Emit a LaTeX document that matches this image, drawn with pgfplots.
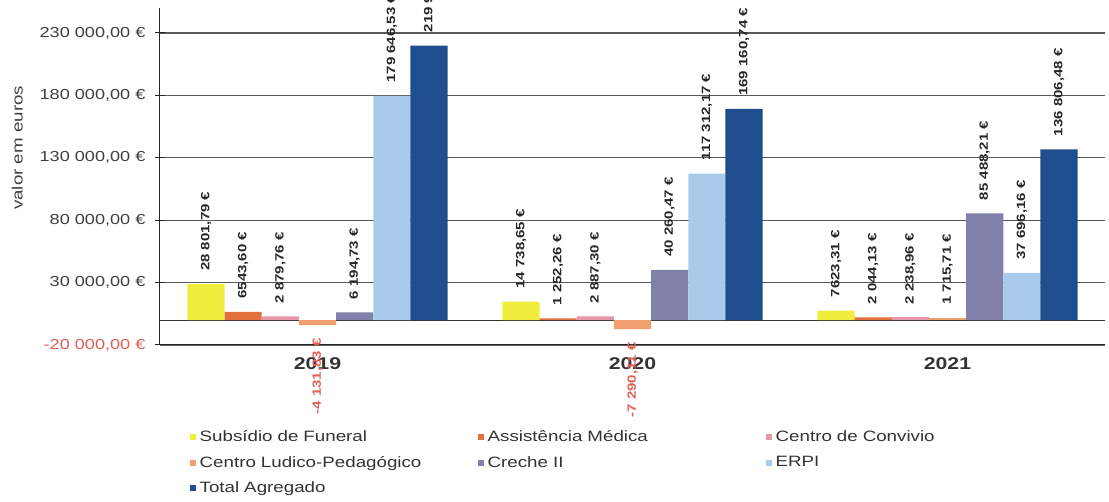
\documentclass[border=0pt]{standalone}
\usepackage{fontspec}
\setmainfont{Liberation Sans}[FakeStretch=1.25]
\usepackage{pgfplots}
\pgfplotsset{compat=1.18}
\definecolor{cSub}{RGB}{240,238,60}
\definecolor{cAss}{RGB}{224,112,60}
\definecolor{cConv}{RGB}{232,150,170}
\definecolor{cLud}{RGB}{240,160,110}
\definecolor{cCre}{RGB}{128,128,170}
\definecolor{cErpi}{RGB}{168,202,235}
\definecolor{cTot}{RGB}{30,78,142}
\definecolor{negred}{RGB}{225,95,85}
\definecolor{gridc}{RGB}{90,90,90}
\begin{document}
\begin{tikzpicture}
\useasboundingbox (0,0) rectangle (1109pt,-502pt);
\begin{axis}[
  at={(160pt,-345pt)}, anchor=south west,
  scale only axis, width=945pt, height=337pt,
  xmin=-0.5, xmax=2.5, ymin=-20000, ymax=250000,
  axis lines*=left,
  axis line style={black!85, line width=1pt},
  xtick={0,1,2}, xticklabels={2019,2020,2021},
  xticklabel style={font=\fontsize{17}{18}\selectfont\bfseries, text=black!80, yshift=1pt},
  major x tick style={draw=none},
  ytick={-20000,30000,80000,130000,180000,230000},
  yticklabels={{\textcolor{negred}{-20 000,00 €}},{30 000,00 €},{80 000,00 €},{130 000,00 €},{180 000,00 €},{230 000,00 €}},
  yticklabel style={font=\fontsize{14.5}{16}\selectfont, text=black!75, xshift=-6pt},
  tick align=center, major tick length=10pt,
  major y tick style={black!85, line width=1pt},
  ymajorgrids, grid style={gridc, line width=1.2pt},
  extra y ticks={0}, extra y tick labels={},
  extra y tick style={grid style={black!80, line width=1pt}, major tick length=0pt},
  ylabel={valor em euros},
  ylabel style={at={(axis description cs:-0.151,0.585)}, anchor=center, font=\fontsize{15}{16}\selectfont, text=black!75},
  ybar=0pt, bar width=0.118,
  point meta=explicit symbolic,
  nodes near coords={\pgfplotspointmeta},
  nodes near coords style={rotate=90, anchor=west, font=\fontsize{12}{13}\selectfont\bfseries, text=black!85, inner xsep=13pt, inner ysep=1pt},
  every axis plot post/.append style={legend image code/.code={\fill[##1] (0pt,-3pt) rectangle (6pt,3pt);}},
  legend columns=3,
  legend style={at={(0.028,-0.245)}, anchor=north west, draw=none, fill=none,
    font=\fontsize{15}{16}\selectfont, text=black!80, row sep=11pt,
    nodes={text width=274pt, anchor=west, inner ysep=1pt, inner xsep=4pt}},
]
\addplot[fill=cSub, draw=none, bar shift=-0.354] coordinates {(0,28801.79) [28 801,79 €] (1,14738.65) [14 738,65 €] (2,7623.31) [7623,31 €]};
\addlegendentry{Subsídio de Funeral}
\addplot[fill=cAss, draw=none, bar shift=-0.236] coordinates {(0,6543.60) [6543,60 €] (1,1252.26) [1 252,26 €] (2,2044.13) [2 044,13 €]};
\addlegendentry{Assistência Médica}
\addplot[fill=cConv, draw=none, bar shift=-0.118] coordinates {(0,2879.76) [2 879,76 €] (1,2887.30) [2 887,30 €] (2,2238.96) [2 238,96 €]};
\addlegendentry{Centro de Convivio}
\addplot[fill=cLud, draw=none, bar shift=0] coordinates {(2,1715.71) [1 715,71 €]};
\addlegendentry{Centro Ludico-Pedagógico}
\addplot[fill=cCre, draw=none, bar shift=0.118] coordinates {(0,6194.73) [6 194,73 €] (1,40260.47) [40 260,47 €] (2,85488.21) [85 488,21 €]};
\addlegendentry{Creche II}
\addplot[fill=cErpi, draw=none, bar shift=0.236] coordinates {(0,179646.53) [179 646,53 €] (1,117312.17) [117 312,17 €] (2,37696.16) [37 696,16 €]};
\addlegendentry{ERPI}
\addplot[fill=cTot, draw=none, bar shift=0.354] coordinates {(0,219934.58) [219 934,58 €] (1,169160.74) [169 160,74 €] (2,136806.48) [136 806,48 €]};
\addlegendentry{Total Agregado}
\addplot[fill=cLud, draw=none, bar shift=0, forget plot, nodes near coords style={anchor=east, text=negred}] coordinates {(0,-4131.83) [-4 131,83 €] (1,-7290.11) [-7 290,11 €]};
\end{axis}
\end{tikzpicture}
\end{document}
